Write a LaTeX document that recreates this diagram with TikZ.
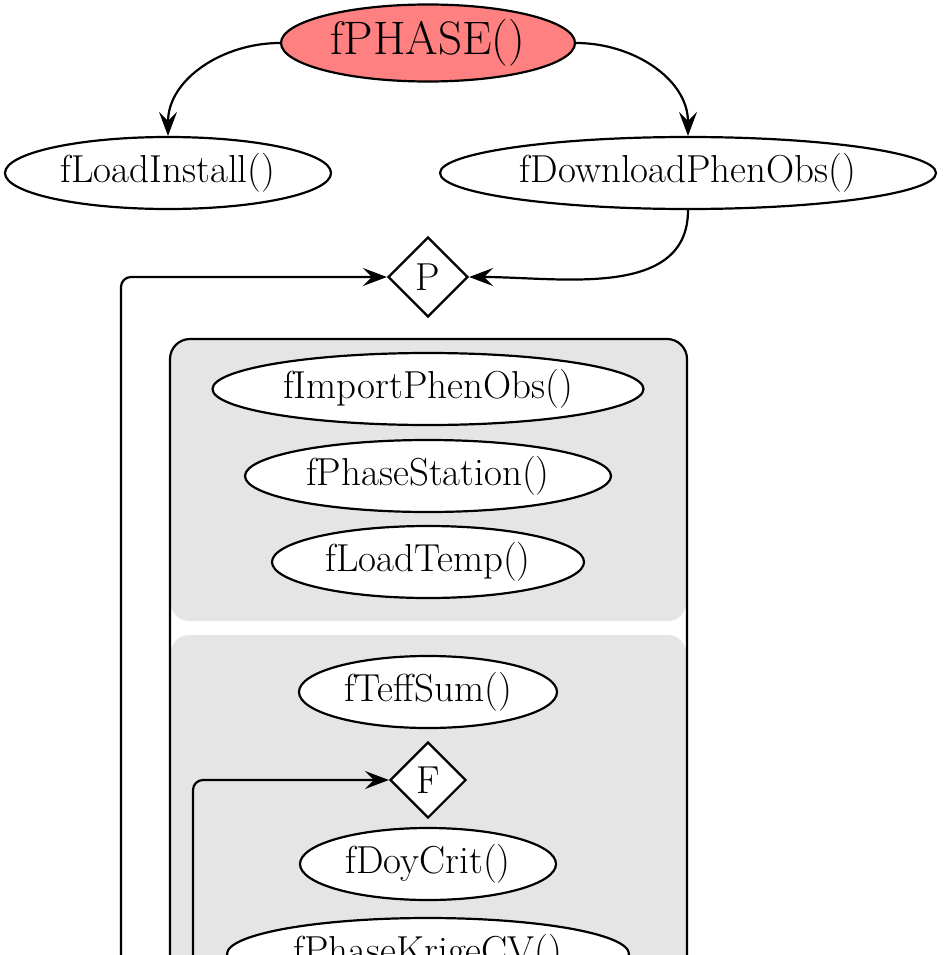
\documentclass[tikz,border=0pt]{standalone}
\usetikzlibrary{shapes.geometric,arrows.meta}
\begin{document}
\begin{tikzpicture}[x=1pt,y=-1pt,
  conn/.style={line width=2.2pt,-{Stealth[length=24pt,width=18pt,inset=9pt]}},
  fn/.style={ellipse,draw,line width=2.2pt,fill=white,inner sep=0pt,minimum height=72pt,font=\fontsize{39}{46}\selectfont},
  decide/.style={diamond,draw,line width=2.2pt,fill=white,inner sep=0pt,minimum width=80pt,minimum height=80pt,font=\fontsize{39}{46}\selectfont},
  groupfill/.style={fill=gray!20,rounded corners=18pt},
  groupframe/.style={draw,line width=2.2pt,rounded corners=20pt}]
\useasboundingbox (0,0) rectangle (943,955);
\clip (0,0) rectangle (943,955);
% group background
\fill[groupfill] (171,339) rectangle (686,621);
\fill[groupfill] (171,635) rectangle (686,1100);
\draw[groupframe] (170,1200) -- (170,339) -- (687,339) -- (687,1200);
% nodes
\node[fn,fill=red!50,minimum width=294pt,minimum height=77pt,font=\fontsize{47}{56}\selectfont] (phase) at (428,43) {fPHASE()};
\node[fn,minimum width=326pt] (load) at (168,173) {fLoadInstall()};
\node[fn,minimum width=496pt] (down) at (688,173) {fDownloadPhenObs()};
\node[decide] (P) at (428,277) {P};
\node[fn,minimum width=431pt] (imp) at (428,389) {fImportPhenObs()};
\node[fn,minimum width=366pt] (stat) at (428,476) {fPhaseStation()};
\node[fn,minimum width=312pt] (temp) at (428,562) {fLoadTemp()};
\node[fn,minimum width=258pt] (teff) at (428,692) {fTeffSum()};
\node[decide,minimum width=76pt,minimum height=76pt] (F) at (428,780) {F};
\node[fn,minimum width=256pt] (doy) at (428,864) {fDoyCrit()};
\node[fn,minimum width=402pt] (krige) at (428,954) {fPhaseKrigeCV()};
% loop starts (outside visible area)
\coordinate (outerstart) at (121,1100);
\coordinate (innerstart) at (193,1100);
% connectors
\draw[conn] (phase.west) to[out=180,in=90] (load.north);
\draw[conn] (phase.east) to[out=0,in=90] (down.north);
\draw[conn] (down.south) to[out=-90,in=0] (P.east);
\draw[conn,rounded corners=10pt] (outerstart) |- (P.west);
\draw[conn,rounded corners=10pt] (innerstart) |- (F.west);
\end{tikzpicture}
\end{document}
